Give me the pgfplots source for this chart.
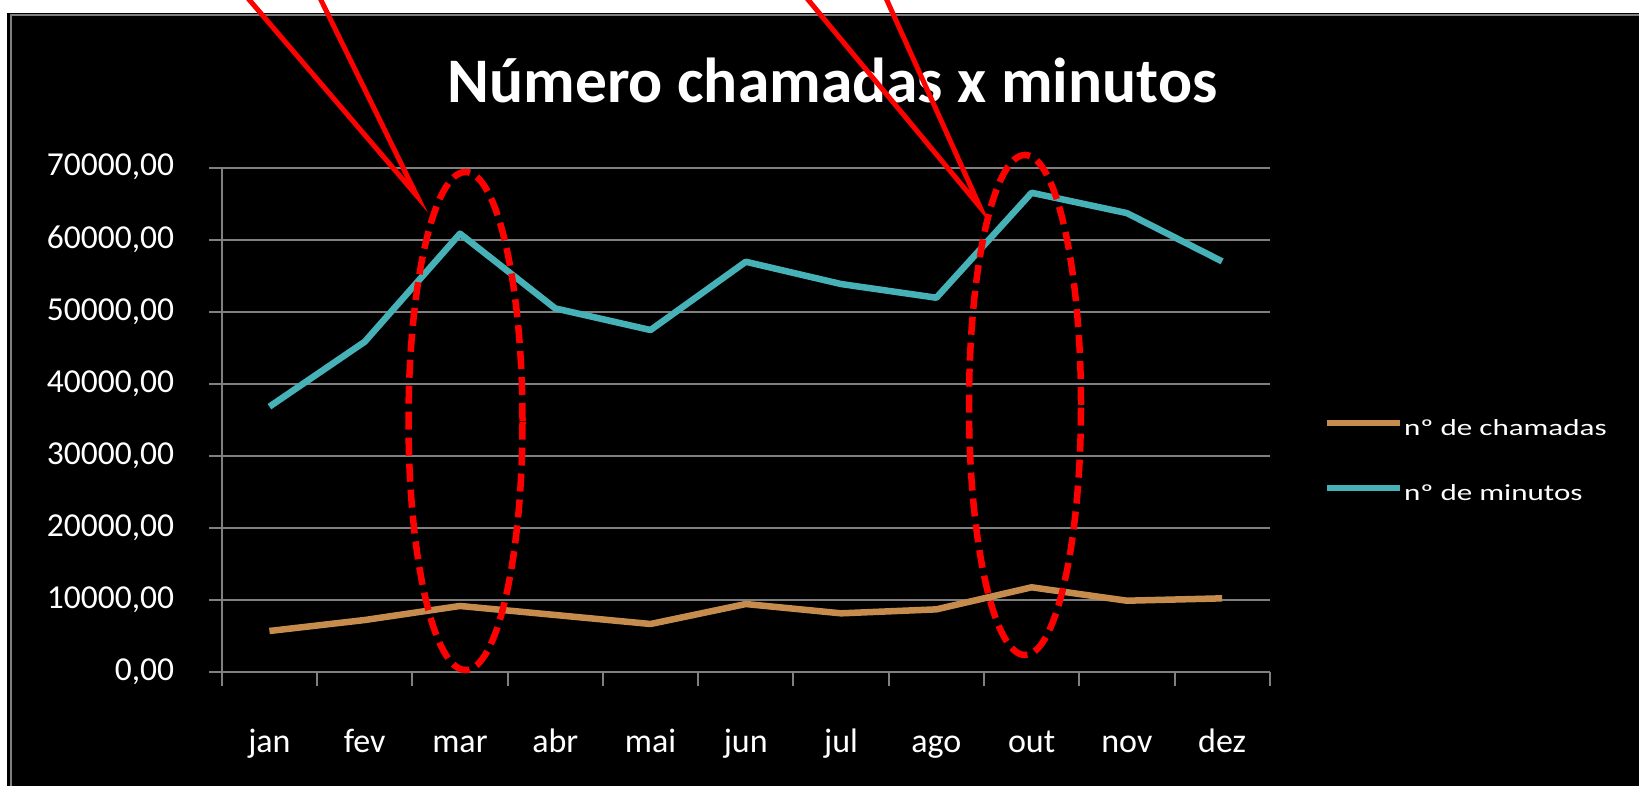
\documentclass[border=0pt]{standalone}
\usepackage{fontspec}
\setmainfont{Carlito}
\newfontfamily\legfont[FakeStretch=1.35]{Carlito}
\usepackage{pgfplots}
\pgfplotsset{compat=1.18}
\definecolor{gridgray}{RGB}{128,128,128}
\definecolor{callorange}{RGB}{197,140,78}
\definecolor{mincyan}{RGB}{70,178,184}
\definecolor{annred}{RGB}{255,0,0}

\begin{document}
\begin{tikzpicture}[x=1pt,y=1pt]
\path[use as bounding box] (0,0) rectangle (1639,786);
\fill[white] (0,0) rectangle (1639,786);
\fill[black] (7,0) rectangle (1639,773);
\draw[gridgray, line width=2pt] (10.5,0) -- (10.5,771) -- (1639,771);

\begin{axis}[
  at={(221.8pt,113.7pt)}, anchor=south west,
  scale only axis, width=1048pt, height=504.6pt,
  xmin=-0.5, xmax=10.5, ymin=0, ymax=70000,
  axis x line*=bottom, axis y line*=left,
  axis line style={gridgray, line width=2pt},
  xtick={0,...,10},
  xticklabels={jan,fev,mar,abr,mai,jun,jul,ago,out,nov,dez},
  minor xtick={-0.5,0.5,...,10.5},
  ytick={0,10000,...,70000},
  scaled y ticks=false,
  ymajorgrids, grid style={gridgray, line width=2pt},
  tick align=outside,
  major tick length=12.5pt, minor tick length=14pt,
  tick style={gridgray, line width=2pt},
  major x tick style={draw=none},
  /pgf/number format/assume math mode=true,
  yticklabel style={/pgf/number format/fixed, /pgf/number format/fixed zerofill,
    /pgf/number format/precision=2, /pgf/number format/use comma,
    /pgf/number format/1000 sep={},
    anchor=base east, inner sep=0pt, xshift=-35pt, yshift=-8.3pt, text=white,
    font=\fontsize{33.5}{40}\selectfont},
  xticklabel style={anchor=base, inner sep=0pt, yshift=-67.7pt, text=white, font=\fontsize{34}{40}\selectfont},
  legend style={at={(1.0517,0.506)}, anchor=north west, draw=none, fill=none,
    text=white, font=\legfont\fontsize{23}{27}\selectfont, inner sep=0pt,
    row sep=41pt, column sep=1pt,
    nodes={inner sep=0pt, text height=18pt, text depth=6pt}},
  legend cell align=left,
  legend image code/.code={\draw[#1, line width=6pt] (0pt,5.7pt) -- (73pt,5.7pt);},
]
\addplot[callorange, line width=6.5pt, line join=round] coordinates {
  (0,5730) (1,7250) (2,9200) (3,7950) (4,6700) (5,9470)
  (6,8180) (7,8730) (8,11790) (9,9930) (10,10260)};
\addlegendentry{nº de chamadas}
\addplot[mincyan, line width=6.5pt, line join=round] coordinates {
  (0,36850) (1,45850) (2,60850) (3,50480) (4,47480) (5,56950)
  (6,53860) (7,51960) (8,66520) (9,63700) (10,57000)};
\addlegendentry{nº de minutos}
\end{axis}

\node[anchor=base, inner sep=0pt, text=white, font=\fontsize{63.5}{72}\selectfont\bfseries]
  at (832.5,683.3) {Número chamadas x minutos};

% annotations drawn over the chart
\draw[annred, line width=5pt] (246,790) -- (417,590) -- (319,790);
\draw[annred, line width=5pt] (805,790) -- (980,579) -- (885,790);
\draw[annred, line width=6.5pt, dash pattern=on 18pt off 8pt]
  (465.5,365) ellipse [x radius=57pt, y radius=249pt];
\draw[annred, line width=6.5pt, dash pattern=on 18pt off 8pt]
  (1025,381) ellipse [x radius=56pt, y radius=250pt];
\end{tikzpicture}
\end{document}
